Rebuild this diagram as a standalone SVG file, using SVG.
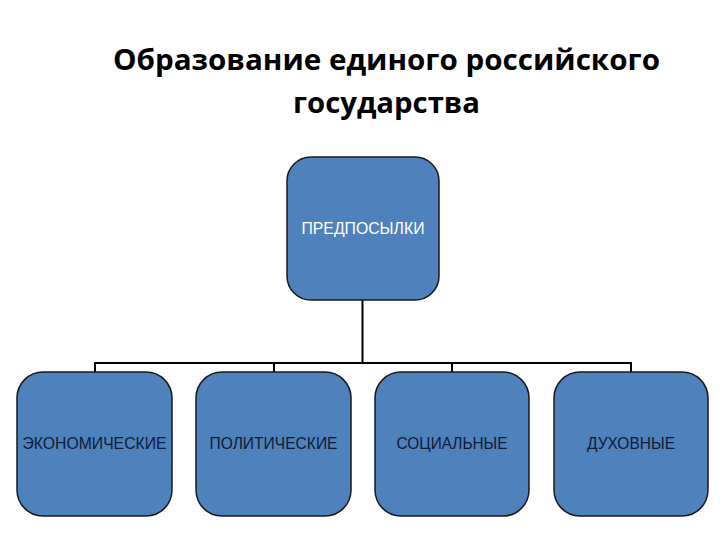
<svg xmlns="http://www.w3.org/2000/svg" width="720" height="540" viewBox="0 0 720 540">
<style>
.box{fill:#4f81bd;stroke:#1a1a1a;stroke-width:1.5}
.lbl{font-family:"Liberation Sans",Arial,sans-serif;font-size:16px;text-anchor:middle;fill:#0d1b36}
.title{font-family:"Open Sans","Liberation Sans",sans-serif;font-weight:bold;font-size:28.5px;text-anchor:middle;fill:#000}
.conn{fill:none;stroke:#000;stroke-width:2}
</style>
<rect width="720" height="540" fill="#fff"/>
<g id="title">
<text class="title" x="386.5" y="70" textLength="547" lengthAdjust="spacingAndGlyphs">Образование единого российского</text>
<text class="title" x="386.5" y="113" textLength="187" lengthAdjust="spacingAndGlyphs">государства</text>
</g>
<g id="connectors">
<path class="conn" d="M362.5 300V363M95 372V363H631V372M274 363V372M452 363V372"/>
</g>
<g id="n0">
<rect class="box" x="287" y="157" width="152" height="143" rx="24"/>
<text class="lbl" x="363" y="234" style="fill:#fff" textLength="123" lengthAdjust="spacingAndGlyphs">ПРЕДПОСЫЛКИ</text>
</g>
<g id="n1">
<rect class="box" x="17" y="372" width="155" height="144" rx="26"/>
<text class="lbl" x="94.5" y="449" textLength="144" lengthAdjust="spacingAndGlyphs">ЭКОНОМИЧЕСКИЕ</text>
</g>
<g id="n2">
<rect class="box" x="196" y="372" width="155" height="144" rx="26"/>
<text class="lbl" x="273.5" y="449" textLength="128" lengthAdjust="spacingAndGlyphs">ПОЛИТИЧЕСКИЕ</text>
</g>
<g id="n3">
<rect class="box" x="375" y="372" width="154" height="144" rx="26"/>
<text class="lbl" x="452" y="449" textLength="111" lengthAdjust="spacingAndGlyphs">СОЦИАЛЬНЫЕ</text>
</g>
<g id="n4">
<rect class="box" x="554" y="372" width="154" height="144" rx="26"/>
<text class="lbl" x="631" y="449" textLength="88" lengthAdjust="spacingAndGlyphs">ДУХОВНЫЕ</text>
</g>
</svg>
